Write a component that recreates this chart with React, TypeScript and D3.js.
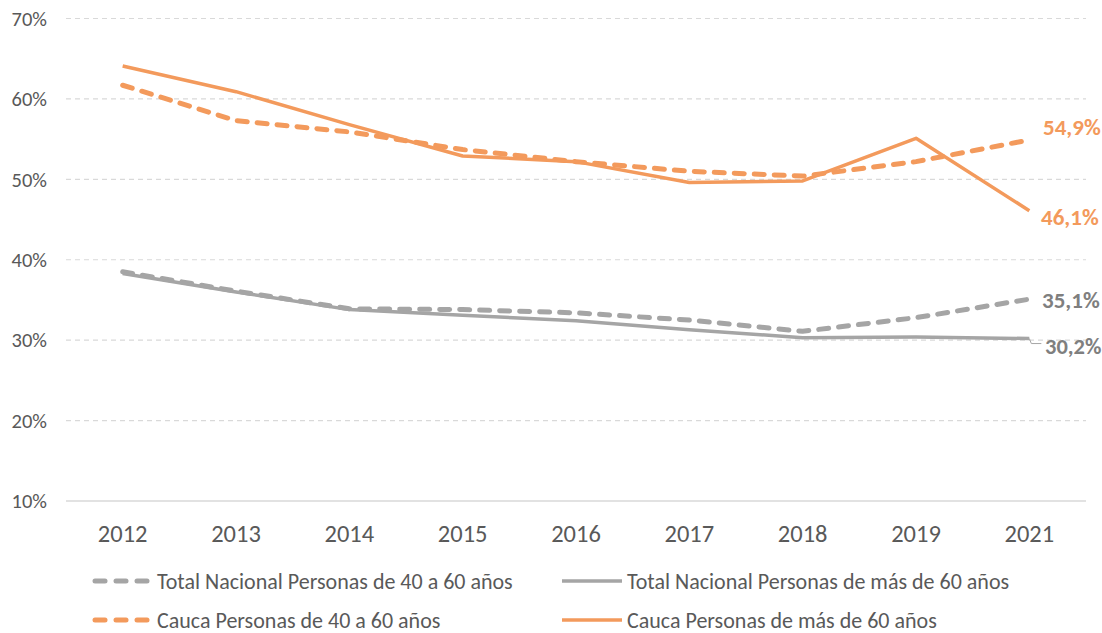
import React from "react";
import * as d3 from "d3";

const years = ["2012", "2013", "2014", "2015", "2016", "2017", "2018", "2019", "2021"];
const totalNac4060 = [38.5, 36.1, 33.9, 33.8, 33.4, 32.5, 31.1, 32.8, 35.1];
const totalNacMas60 = [38.3, 36.0, 33.8, 33.1, 32.4, 31.3, 30.3, 30.4, 30.2];
const cauca4060 = [61.7, 57.3, 55.9, 53.7, 52.2, 51.0, 50.4, 52.2, 54.9];
const caucaMas60 = [64.1, 60.9, 56.8, 52.9, 52.2, 49.6, 49.8, 55.1, 46.1];
const yTicks = [10, 20, 30, 40, 50, 60, 70];

const GRAY = "#A5A5A5";
const ORANGE = "#F39A5C";
const TEXT = "#595959";
const LABEL_GRAY = "#7F7F7F";
const FONT = "Carlito, Calibri, 'Liberation Sans', Arial, sans-serif";

const series = [
  { name: "Total Nacional Personas de 40 a 60 años", values: totalNac4060, color: GRAY, dashed: true },
  { name: "Total Nacional Personas de más de 60 años", values: totalNacMas60, color: GRAY, dashed: false },
  { name: "Cauca Personas de 40 a 60 años", values: cauca4060, color: ORANGE, dashed: true },
  { name: "Cauca Personas de más de 60 años", values: caucaMas60, color: ORANGE, dashed: false },
];

export default function App() {
  const W = 1102, H = 633;
  const x = d3.scaleBand<string>().domain(years).range([66, 1086]);
  const cx = (y: string) => (x(y) as number) + x.bandwidth() / 2;
  const y = d3.scaleLinear().domain([10, 70]).range([501, 18.5]);
  const line = d3.line<number>().x((_, i) => cx(years[i])).y((v) => y(v));
  const last = years.length - 1;
  const fmt = (v: number) => v.toFixed(1).replace(".", ",") + "%";

  const legendPos = [
    { x: 92, y: 581 },
    { x: 562, y: 581 },
    { x: 92, y: 620 },
    { x: 562, y: 620 },
  ];

  return (
    <svg width={W} height={H} style={{ position: "absolute", left: 0, top: 0, background: "#fff" }}>
      {yTicks.map((t) => (
        <g key={t}>
          <line
            x1={66}
            x2={1086}
            y1={y(t)}
            y2={y(t)}
            stroke="#D9D9D9"
            strokeWidth={t === 10 ? 1.5 : 1.2}
            strokeDasharray={t === 10 ? undefined : "5,4"}
          />
          <text x={47} y={y(t)} dy="0.35em" textAnchor="end" fontFamily={FONT} fontSize={20.5} fill={TEXT}>
            {t}%
          </text>
        </g>
      ))}
      {years.map((yr) => (
        <text key={yr} x={cx(yr)} y={542} textAnchor="middle" fontFamily={FONT} fontSize={24.5} fill={TEXT}>
          {yr}
        </text>
      ))}
      {series.map((s) => (
        <path
          key={s.name}
          d={line(s.values) as string}
          fill="none"
          stroke={s.color}
          strokeWidth={s.dashed ? 5 : 3.5}
          strokeDasharray={s.dashed ? "10,10" : undefined}
          strokeLinecap={s.dashed ? "round" : "butt"}
          strokeLinejoin="round"
        />
      ))}
      {/* end labels */}
      <text x={1043} y={y(cauca4060[last]) - 13} dy="0.35em" fontFamily={FONT} fontSize={23} fontWeight="bold" fill={ORANGE}>
        {fmt(cauca4060[last])}
      </text>
      <text x={1041} y={y(caucaMas60[last]) + 6} dy="0.35em" fontFamily={FONT} fontSize={23} fontWeight="bold" fill={ORANGE}>
        {fmt(caucaMas60[last])}
      </text>
      <text x={1042} y={y(totalNac4060[last]) + 1} dy="0.35em" fontFamily={FONT} fontSize={23} fontWeight="bold" fill={LABEL_GRAY}>
        {fmt(totalNac4060[last])}
      </text>
      <path
        d={`M${cx(years[last])},${y(totalNacMas60[last])} L${cx(years[last]) + 2},${y(totalNacMas60[last]) + 5} L${cx(years[last]) + 12},${y(totalNacMas60[last]) + 5}`}
        fill="none"
        stroke={GRAY}
        strokeWidth={1}
      />
      <text x={1045} y={y(totalNacMas60[last]) + 8} dy="0.35em" fontFamily={FONT} fontSize={22.5} fontWeight="bold" fill={LABEL_GRAY}>
        {fmt(totalNacMas60[last])}
      </text>
      {series.map((s, i) => {
        const p = legendPos[i];
        return (
          <g key={s.name}>
            {s.dashed ? (
              [0, 1, 2].map((k) => (
                <line
                  key={k}
                  x1={p.x + 3 + k * 21}
                  x2={p.x + 13 + k * 21}
                  y1={p.y}
                  y2={p.y}
                  stroke={s.color}
                  strokeWidth={5}
                  strokeLinecap="round"
                />
              ))
            ) : (
              <line x1={p.x} x2={p.x + 60} y1={p.y} y2={p.y} stroke={s.color} strokeWidth={3.5} />
            )}
            <text x={p.x + 65} y={p.y} dy="0.35em" fontFamily={FONT} fontSize={22} fill={TEXT}>
              {s.name}
            </text>
          </g>
        );
      })}
    </svg>
  );
}
